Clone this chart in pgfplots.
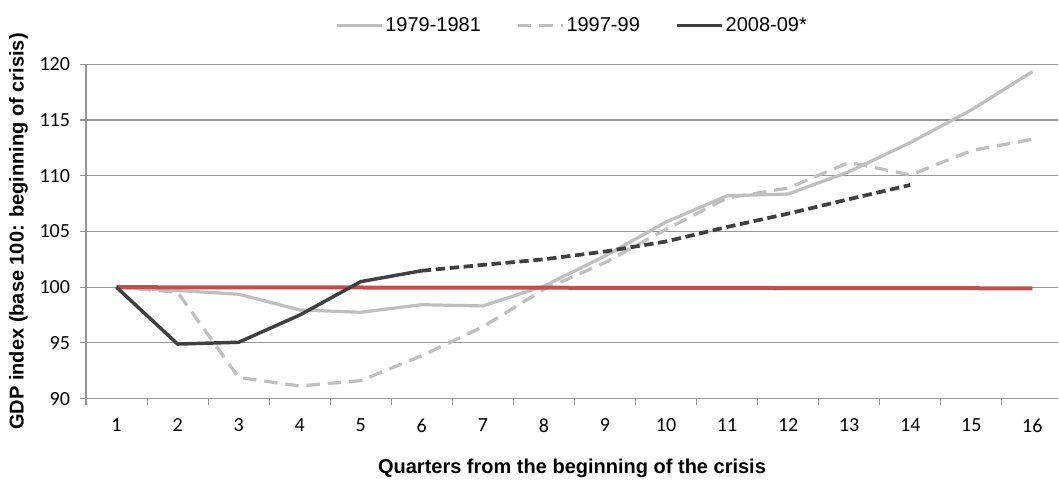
\documentclass[border=0pt]{standalone}
\usepackage{pgfplots}
\pgfplotsset{compat=1.18}
\usepackage{fontspec}
\setmainfont{Liberation Sans}
\newfontfamily\carlito{Carlito}
\definecolor{lightser}{RGB}{191,191,191}
\definecolor{darkser}{RGB}{64,64,64}
\definecolor{redser}{RGB}{192,80,77}
\definecolor{gridc}{RGB}{150,150,150}
\begin{document}
\begin{tikzpicture}
\path[use as bounding box] (-64.5pt,-60.975pt) rectangle (729.75pt,299.0pt);
\begin{axis}[
  at={(0,0)}, anchor=south west,
  scale only axis, width=729pt, height=250.8pt,
  xmin=0.5, xmax=16.42, ymin=90, ymax=120,
  axis x line*=bottom, axis y line*=left,
  axis line style={draw=gridc, line width=0.8pt, -},
  xtick={1,...,16}, minor xtick={0.5,1.5,...,15.5},
  ytick={90,95,...,120},
  ymajorgrids, major grid style={draw=gridc, line width=0.8pt},
  tick align=outside, major tick length=4.5pt, minor tick length=4.5pt,
  every tick/.style={draw=gridc, line width=0.8pt},
  major x tick style={draw=none},
  /pgf/number format/assume math mode=true,
  tick label style={font=\carlito\fontsize{15}{18}\selectfont, text=black},
  yticklabel style={xshift=-4pt},
  xticklabel style={yshift=-7pt},
  every axis x label/.style={at={(axis description cs:0.5,0)}, yshift=-52.6pt, anchor=center},
  every axis y label/.style={at={(axis description cs:0,0.5)}, xshift=-50.6pt, rotate=90, anchor=center},
  label style={font=\bfseries\fontsize{15}{18}\selectfont},
  xlabel={Quarters from the beginning of the crisis},
  ylabel={GDP index (base 100: beginning of crisis)},
  legend columns=3,
  legend style={draw=none, fill=none, at={(rel axis cs:0.5,1.116)}, anchor=center,
    font=\fontsize{15}{18}\selectfont,
    nodes={inner xsep=1.5pt, inner ysep=2pt},
    /tikz/every even column/.append style={column sep=25pt}},
  legend image code/.code={\draw[#1] (0pt,0pt) -- (33.75pt,0pt);},
]
\addplot[lightser, line width=2.4pt] coordinates {
(1,100) (2,99.7) (3,99.37) (4,97.96) (5,97.75) (6,98.43) (7,98.32) (8,100.1)
(9,102.8) (10,105.85) (11,108.2) (12,108.36) (13,110.37) (14,112.97) (15,115.9) (16,119.34)};
\addlegendentry{1979-1981}
\addplot[lightser, line width=2.4pt, dash pattern=on 10pt off 6pt] coordinates {
(1,100) (2,99.55) (3,91.9) (4,91.14) (5,91.62) (6,93.85) (7,96.45) (8,99.8)
(9,102.2) (10,105.2) (11,108.0) (12,108.9) (13,111.2) (14,110.07) (15,112.25) (16,113.27)};
\addlegendentry{1997-99}
\addplot[redser, line width=3pt, forget plot] coordinates {(1,100) (16,99.9)};
\addplot[darkser, line width=2.6pt] coordinates {
(1,100) (2,94.9) (3,95.06) (4,97.5) (5,100.5) (6,101.48)};
\addlegendentry{2008-09*}
\addplot[darkser, line width=2.8pt, dash pattern=on 7pt off 3.5pt, forget plot] coordinates {
(6,101.48) (7,102.0) (8,102.5) (9,103.2) (10,104.1) (11,105.4) (12,106.6) (13,107.9) (14,109.17)};
\end{axis}
\end{tikzpicture}
\end{document}
